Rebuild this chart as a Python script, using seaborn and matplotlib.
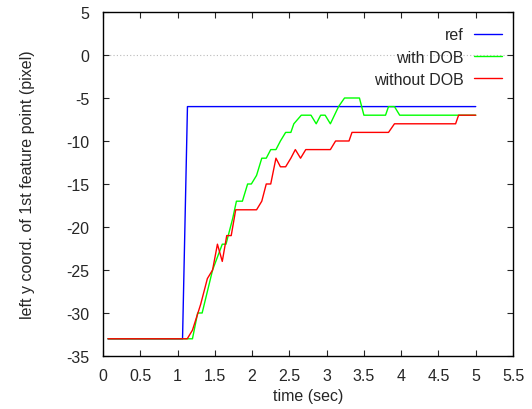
import matplotlib
matplotlib.use("Agg")
import matplotlib.pyplot as plt
import seaborn as sns
import pandas as pd

# ref step
ref_t = [0.067, 1.067, 1.133, 5.0]
ref_y = [-33, -33, -6, -6]

# with DOB
dob_t = [0.067, 1.20, 1.27, 1.33, 1.47, 1.60, 1.65, 1.74, 1.79, 1.87, 1.94, 1.99,
         2.06, 2.13, 2.19, 2.25, 2.32, 2.38, 2.45, 2.52, 2.56, 2.66, 2.79, 2.86,
         2.92, 2.98, 3.05, 3.16, 3.24, 3.44, 3.50, 3.79, 3.83, 3.91, 3.98, 5.0]
dob_y = [-33, -33, -30, -30, -25, -22, -22, -19, -17, -17, -15, -15,
         -14, -12, -12, -11, -11, -10, -9, -9, -8, -7, -7, -8,
         -7, -7, -8, -6, -5, -5, -7, -7, -6, -6, -7, -7]

# without DOB
nodob_t = [0.067, 1.13, 1.20, 1.31, 1.40, 1.47, 1.535, 1.60, 1.66, 1.72, 1.78,
           2.06, 2.13, 2.19, 2.25, 2.32, 2.38, 2.45, 2.52, 2.58, 2.65, 2.72,
           3.05, 3.12, 3.30, 3.34, 3.83, 3.91, 4.73, 4.77, 5.0]
nodob_y = [-33, -33, -32, -29, -26, -25, -22, -24, -21, -21, -18,
           -18, -17, -15, -15, -12, -13, -13, -12, -11, -12, -11,
           -11, -10, -10, -9, -9, -8, -8, -7, -7]

names = ["ref", "with DOB", "without DOB"]
colors = ["#0000ff", "#00ff00", "#ff0000"]

df = pd.concat([
    pd.DataFrame({"t": ref_t, "y": ref_y, "series": names[0]}),
    pd.DataFrame({"t": dob_t, "y": dob_y, "series": names[1]}),
    pd.DataFrame({"t": nodob_t, "y": nodob_y, "series": names[2]}),
], ignore_index=True)

sns.set_style("ticks")
plt.rcParams["font.family"] = ["Liberation Sans", "DejaVu Sans"]
plt.rcParams["axes.unicode_minus"] = False

fig = plt.figure(figsize=(5.32, 4.10), dpi=100)
ax = fig.add_axes([0.1936, 0.1293, 0.7707, 0.8390])

ax.axhline(0, color="#bbbbbb", lw=0.8, ls=(0, (1, 2)), zorder=0)
sns.lineplot(data=df, x="t", y="y", hue="series", palette=dict(zip(names, colors)),
             sort=False, estimator=None, lw=1.0, ax=ax)

ax.set_xlim(0, 5.5)
ax.set_ylim(-35, 5)
ax.set_xticks([i * 0.5 for i in range(12)])
ax.set_xticklabels(["0", "0.5", "1", "1.5", "2", "2.5", "3", "3.5", "4", "4.5", "5", "5.5"])
ax.set_yticks(range(-35, 6, 5))
ax.tick_params(direction="in", top=True, right=True, length=4, width=0.8,
               labelsize=11.5)
ax.tick_params(axis="x", pad=9)
ax.tick_params(axis="y", pad=10)
for s in ax.spines.values():
    s.set_linewidth(1.0)
    s.set_color("black")
ax.set_xlabel("time (sec)", fontsize=11.5, labelpad=3)
ax.set_ylabel("left y coord. of 1st feature point (pixel)", fontsize=11.5, labelpad=22)

h, l = ax.get_legend_handles_labels()
ax.legend(h, l, loc="upper right", frameon=False, markerfirst=False, fontsize=11.5,
          handlelength=1.75, handletextpad=0.65, labelspacing=0.45,
          borderpad=0, borderaxespad=0, bbox_to_anchor=(0.973, 0.955))

fig.savefig("out.png", dpi=100)
